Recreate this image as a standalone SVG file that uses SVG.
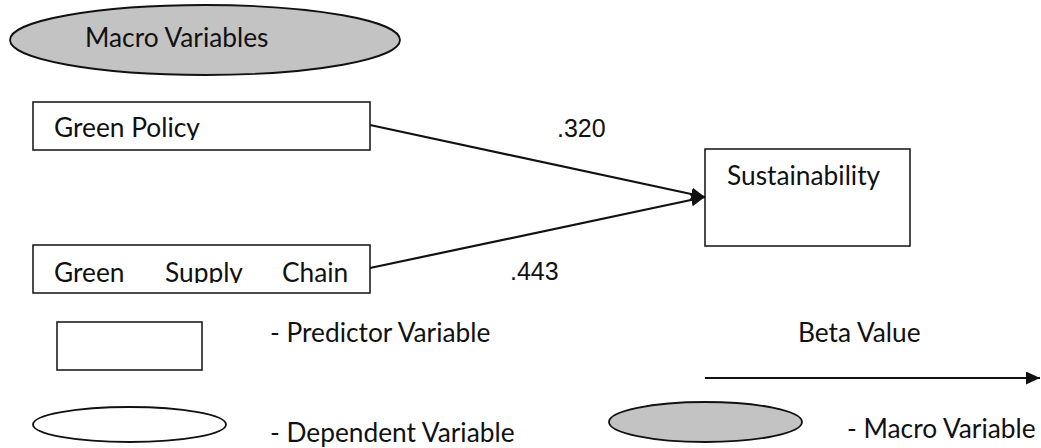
<svg xmlns="http://www.w3.org/2000/svg" width="1041" height="448" viewBox="0 0 1041 448">
<style>
.lbl{font-family:Lato,"Noto Sans",sans-serif;font-size:26.3px;fill:#111}
.num{font-family:"Liberation Sans",Arial,sans-serif;font-size:25px;fill:#111}
.box{fill:#fff;stroke:#111;stroke-width:1.5}
.gray{fill:#c3c3c3;stroke:#111;stroke-width:1.8}
.wht{fill:#fff;stroke:#111;stroke-width:1.8}
.conn{stroke:#111;stroke-width:2.2;fill:none}
</style>
<defs>
<marker id="ah" markerWidth="14" markerHeight="13" refX="14" refY="6.5" orient="auto" markerUnits="userSpaceOnUse">
<path d="M0,0 L14,6.5 L0,13 z" fill="#111"/>
</marker>
<clipPath id="c1"><rect x="33" y="102" width="337" height="38"/></clipPath>
<clipPath id="c2"><rect x="33" y="245" width="337" height="38"/></clipPath>
</defs>
<g id="macro-variables">
<ellipse class="gray" cx="205" cy="40" rx="195" ry="35"/>
<text class="lbl" x="85" y="47">Macro Variables</text>
</g>
<g id="green-policy">
<rect class="box" x="33" y="102" width="337" height="48"/>
<text class="lbl" x="54" y="137" clip-path="url(#c1)">Green Policy</text>
</g>
<g id="green-supply-chain">
<rect class="box" x="33" y="245" width="337" height="48"/>
<g clip-path="url(#c2)">
<text class="lbl" x="54" y="282">Green</text>
<text class="lbl" x="165" y="282">Supply</text>
<text class="lbl" x="282" y="282">Chain</text>
</g>
</g>
<g id="sustainability">
<rect class="box" x="705" y="149" width="205" height="97"/>
<text class="lbl" x="727" y="185">Sustainability</text>
</g>
<g id="connectors">
<line class="conn" x1="370" y1="125" x2="705" y2="197" marker-end="url(#ah)"/>
<line class="conn" x1="370" y1="268" x2="705" y2="197" marker-end="url(#ah)"/>
<text class="num" x="557" y="137">.320</text>
<text class="num" x="510" y="280">.443</text>
</g>
<g id="legend">
<rect class="box" x="57" y="322" width="145" height="48"/>
<text class="lbl" x="270" y="342">- Predictor Variable</text>
<ellipse class="wht" cx="129.5" cy="424.5" rx="96.5" ry="17.5"/>
<text class="lbl" x="270" y="442">- Dependent Variable</text>
<text class="lbl" x="798" y="342">Beta Value</text>
<line class="conn" x1="705" y1="378" x2="1040" y2="378" marker-end="url(#ah)"/>
<ellipse class="gray" cx="705.5" cy="422" rx="96.5" ry="20"/>
<text class="lbl" x="847" y="438">- Macro Variable</text>
</g>
</svg>
